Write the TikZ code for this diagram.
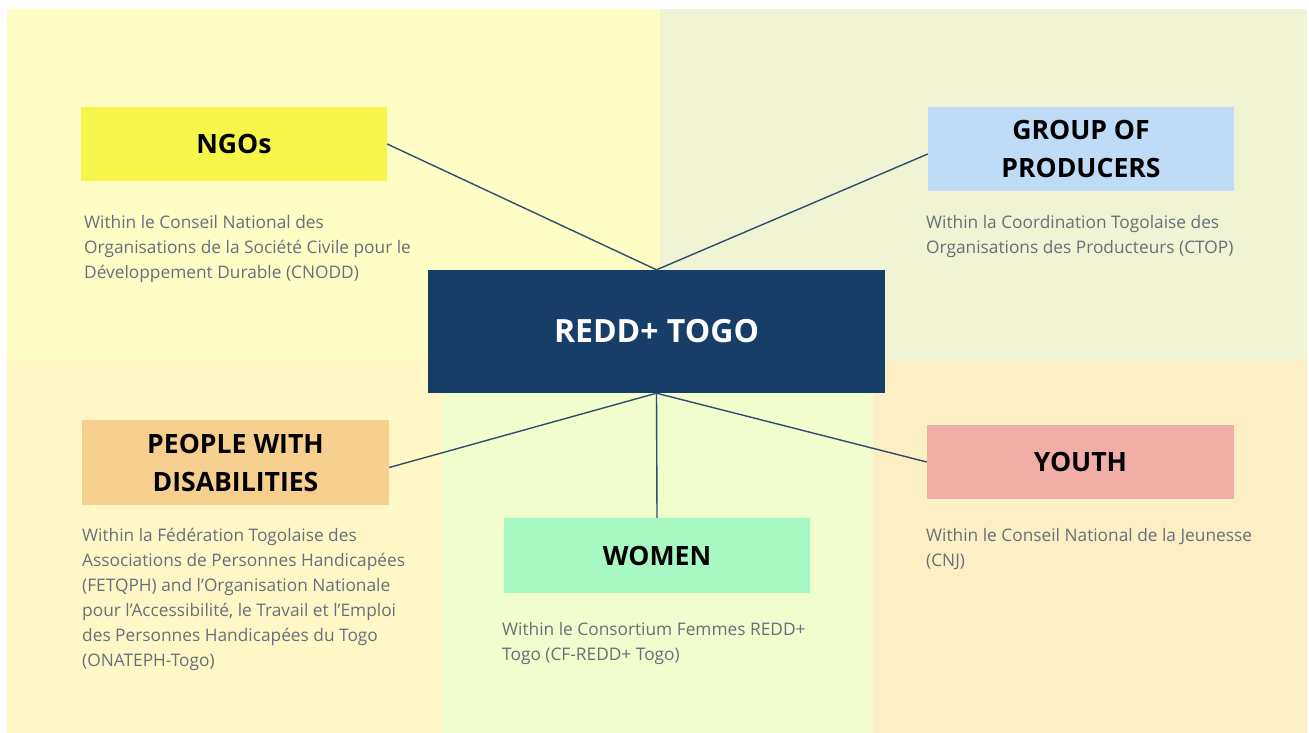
\documentclass[tikz,border=0pt]{standalone}
\usepackage{fontspec}
\setmainfont{Open Sans}
\usepackage{xcolor}
\usepackage{tikz}

\definecolor{tlpanel}{HTML}{FFFDC6}
\definecolor{trpanel}{HTML}{F0F4D4}
\definecolor{blpanel}{HTML}{FFF8C6}
\definecolor{bmpanel}{HTML}{F1FDCD}
\definecolor{brpanel}{HTML}{FDEFC4}
\definecolor{hubfill}{HTML}{163E68}
\definecolor{ngofill}{HTML}{F5F54A}
\definecolor{prodfill}{HTML}{BEDCF7}
\definecolor{disfill}{HTML}{F7CF8F}
\definecolor{womfill}{HTML}{A8F8C3}
\definecolor{youfill}{HTML}{F0AEA6}
\definecolor{linkcol}{HTML}{2E4E6E}
\definecolor{desccol}{HTML}{66707B}

\begin{document}
\begin{tikzpicture}[x=1pt,y=-1pt]
\tikzstyle{every node}+=[inner sep=0pt]
\tikzstyle{groupbox}=[rectangle, minimum width=306pt, align=center,
  font=\bfseries\fontsize{26.6}{38}\selectfont, text=black]
\tikzstyle{hubbox}=[rectangle, fill=hubfill, minimum width=457pt, minimum height=123pt,
  font=\bfseries\fontsize{32}{36}\selectfont, text=white]
\tikzstyle{desc}=[anchor=north west, align=left, text=desccol,
  font=\fontsize{17.3}{25}\selectfont]
\tikzstyle{link}=[linkcol, line width=1.4pt]
\useasboundingbox (0,0) rectangle (1309,733);
\fill [white] (0,0) rectangle (1309,733);
% panels
\fill [tlpanel] (7,9) rectangle (660,360);
\fill [trpanel] (660,9) rectangle (1307,361);
\fill [blpanel] (7,360) rectangle (443,733);
\fill [bmpanel] (443,360) rectangle (873,733);
\fill [brpanel] (873,361) rectangle (1307,733);
% boxes
\node [hubbox] (hub) at (656.5,331.5) {REDD+ TOGO};
\node [groupbox, fill=ngofill, minimum height=74pt] (ngo) at (234,144) {NGOs};
\node [groupbox, fill=prodfill, minimum height=84pt] (prod) at (1081,149) {GROUP OF\\PRODUCERS};
\node [groupbox, fill=disfill, minimum width=307pt, minimum height=85pt] (dis) at (235.5,462.5) {PEOPLE WITH\\DISABILITIES};
\node [groupbox, fill=womfill, minimum height=75pt] (wom) at (657,555.5) {WOMEN};
\node [groupbox, fill=youfill, minimum width=307pt, minimum height=74pt] (you) at (1080.5,462) {YOUTH};
% descriptions
\node [desc] (ngotxt) at (84,215) {Within le Conseil National des\\Organisations de la Société Civile pour le\\Développement Durable (CNODD)};
\node [desc] (prodtxt) at (926,215) {Within la Coordination Togolaise des\\Organisations des Producteurs (CTOP)};
\node [desc] (distxt) at (82,528) {Within la Fédération Togolaise des\\Associations de Personnes Handicapées\\(FETQPH) and l'Organisation Nationale\\pour l’Accessibilité, le Travail et l’Emploi\\des Personnes Handicapées du Togo\\(ONATEPH-Togo)};
\node [desc] (womtxt) at (502,622) {Within le Consortium Femmes REDD+\\Togo (CF-REDD+ Togo)};
\node [desc] (youtxt) at (926,528) {Within le Conseil National de la Jeunesse\\(CNJ)};
% links
\draw [link] (ngo.east) -- (hub.north);
\draw [link] ([yshift=-5pt]prod.west) -- (hub.north);
\draw [link] ([yshift=-5pt]dis.east) -- (hub.south);
\draw [link] (wom.north) -- (hub.south);
\draw [link] (you.west) -- (hub.south);
\end{tikzpicture}
\end{document}
